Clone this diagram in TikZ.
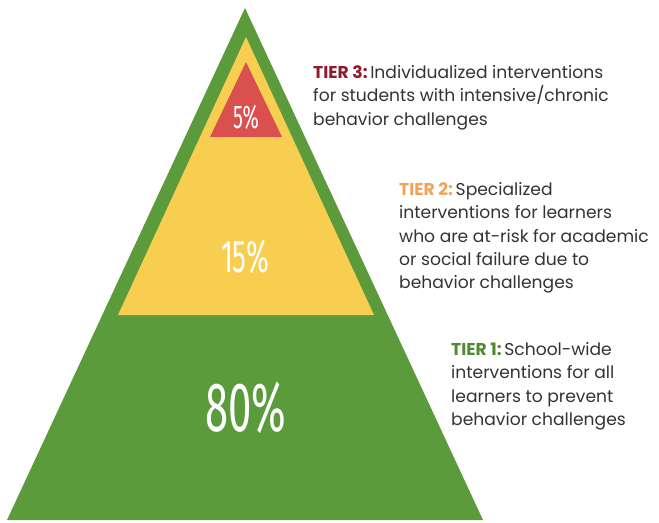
\documentclass[tikz,border=0pt]{standalone}
\usepackage{fontspec}
\setmainfont{Poppins}
\newfontfamily\pctfont[FakeStretch=0.6]{Fira Sans}
\usetikzlibrary{positioning}
\definecolor{pyrgreen}{HTML}{5C9B3C}
\definecolor{pyryellow}{HTML}{F7CE50}
\definecolor{pyrred}{HTML}{D9504F}
\definecolor{tierthree}{HTML}{8E1C2E}
\definecolor{tiertwo}{HTML}{EFA45A}
\definecolor{tierone}{HTML}{4F8A2E}
\definecolor{bodygray}{HTML}{333333}
\newcommand\tierlabel[2]{{\bfseries\color{#1}#2}\kern-2pt\ }

\begin{document}
\begin{tikzpicture}
[x=1bp,y=-1bp,
 tiertext/.style={anchor=north west,align=left,inner sep=0pt,
   text=bodygray,font=\fontsize{17.2}{23.5}\selectfont},
 pct/.style={text=white,inner sep=0pt}]
\useasboundingbox (0,0) rectangle (659,523);
% pyramid
\coordinate (top) at (245,8);
\coordinate (bl) at (7,520);
\coordinate (br) at (483,520);
\fill[pyrgreen] (top) -- (br) -- (bl) -- cycle;
\coordinate (ytop) at (246,37);
\coordinate (ybl) at (118,315);
\coordinate (ybr) at (374,315);
\fill[pyryellow] (ytop) -- (ybr) -- (ybl) -- cycle;
\coordinate (rtop) at (246,62);
\coordinate (rbl) at (210,137);
\coordinate (rbr) at (282,137);
\fill[pyrred] (rtop) -- (rbr) -- (rbl) -- cycle;
% percentages
\node[pct,font=\pctfont\fontsize{33}{33}\selectfont] (p5) at (246,117) {5\%};
\node[pct,font=\pctfont\fontsize{46}{46}\selectfont] (p15) at (245,257) {15\%};
\node[pct,font=\pctfont\fontsize{70}{70}\selectfont] (p80) at (246,408) {80\%};
% tier texts
\node[tiertext] (t3) at (313,65)
  {\tierlabel{tierthree}{TIER 3:}Individualized interventions\\
   for students with intensive/chronic\\behavior challenges};
\node[tiertext] (t2) at (399,182)
  {\tierlabel{tiertwo}{TIER 2:}Specialized\\interventions for learners\\
   who are at-risk for academic\\or social failure due to\\behavior challenges};
\node[tiertext] (t1) at (451,342)
  {\tierlabel{tierone}{TIER 1:}School-wide\\interventions for all\\
   learners to prevent\\behavior challenges};
\end{tikzpicture}
\end{document}
